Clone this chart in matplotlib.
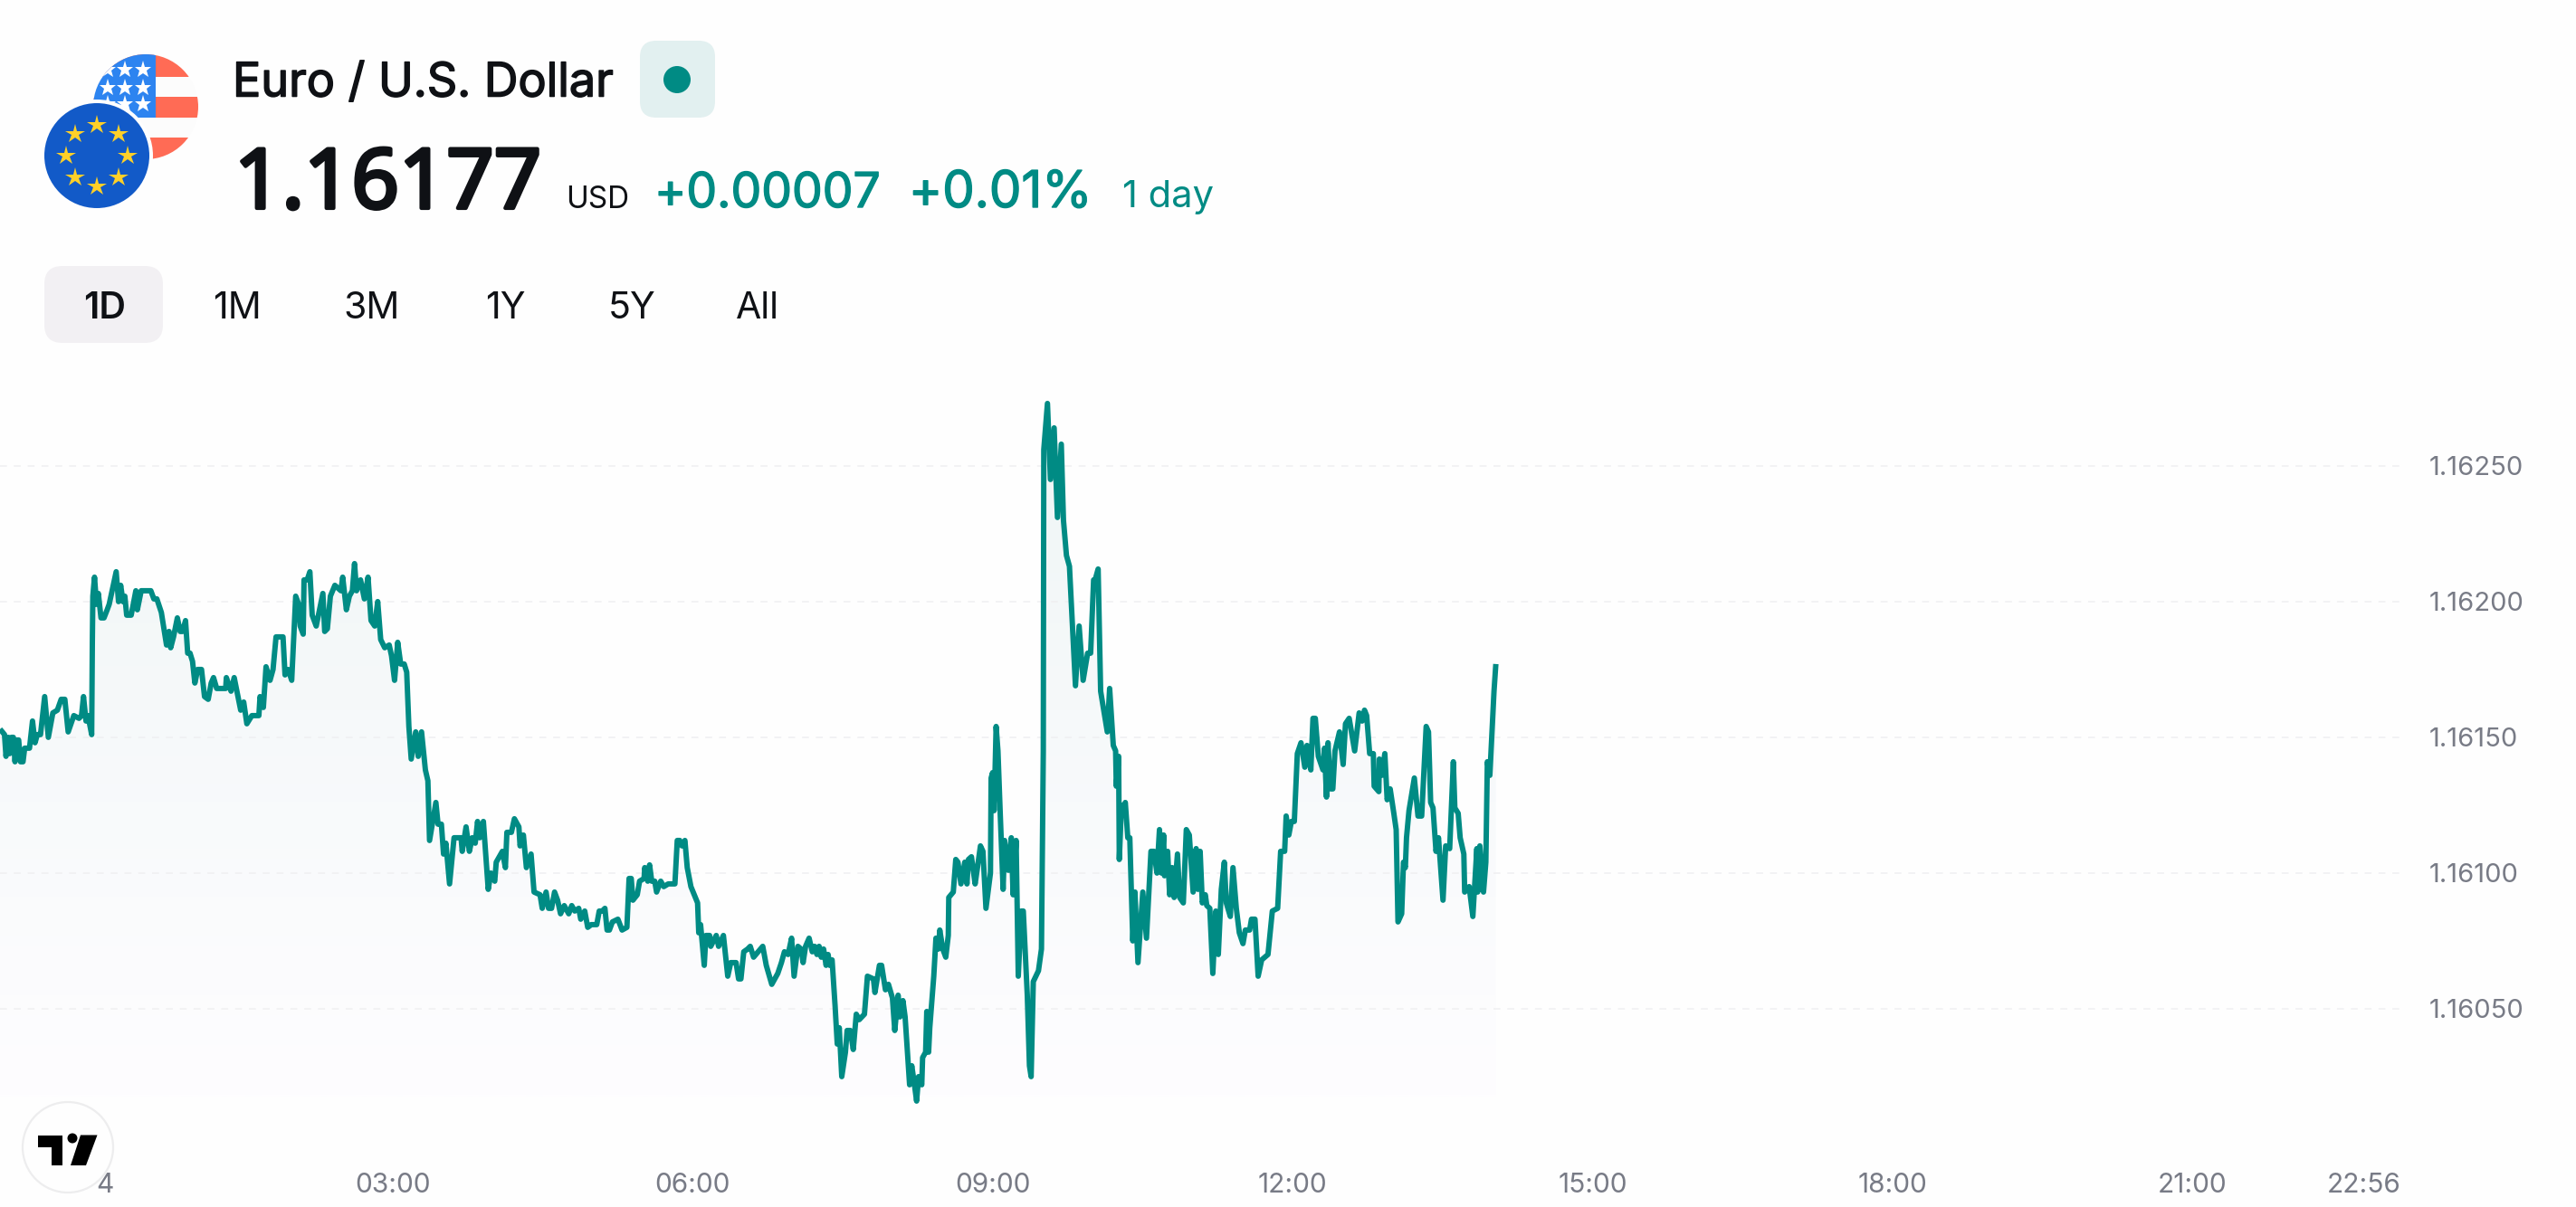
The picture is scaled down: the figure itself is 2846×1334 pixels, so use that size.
import numpy as np
import matplotlib
matplotlib.use("Agg")
import matplotlib.pyplot as plt
import matplotlib.patheffects as pe
from matplotlib.patches import Circle, FancyBboxPatch, Polygon, Rectangle
from matplotlib.transforms import ScaledTranslation

plt.rcParams["font.family"] = ["Inter", "DejaVu Sans"]

# Minutes from midnight and EUR/USD quote at each sampled point
minutes = [
    -55.4, -54.0, -52.7, -51.8, -50.5, -49.6, -48.5, -47.4, -46.4, -45.3, -44.2, -43.1, -41.6, -40.6, -37.7, -35.9,
    -34.4, -33.0, -31.1, -28.6, -26.4, -23.7, -21.0, -18.7, -16.5, -14.5, -11.1, -8.0, -6.5, -5.3, -3.8, -2.6, -0.4,
    0.0, 0.3, 1.3, 2.5, 3.6, 5.2, 7.0, 8.9, 10.1, 14.3, 15.7, 17.0, 18.4, 19.5, 20.6, 23.3, 26.1, 27.0, 29.3, 35.1,
    36.9, 38.7, 41.4, 43.2, 44.5, 46.0, 47.0, 48.7, 51.0, 52.7, 54.1, 55.9, 57.2, 58.6, 60.1, 61.5, 63.2, 65.5, 67.3,
    69.5, 71.3, 72.7, 74.6, 80.0, 80.4, 83.2, 85.1, 89.0, 90.8, 92.7, 95.7, 99.9, 100.6, 102.6, 104.2, 106.6,
    108.4, 110.2, 114.4, 115.6, 117.5, 119.6, 122.0, 123.8, 124.7, 126.5, 127.0, 128.9, 130.5, 131.9, 134.3, 138.3,
    139.4, 141.0, 142.8, 145.5, 149.1, 150.2, 152.4, 154.2, 156.0, 157.3, 158.5, 160.9, 163.2, 165.4, 167.2, 169.4,
    171.2, 173.0, 175.4, 178.1, 179.5, 181.3, 183.2, 185.0, 187.1, 188.6, 189.9, 191.3, 194.0, 195.5, 197.5, 199.8,
    201.3, 202.3, 206.1, 207.4, 209.4, 210.7, 212.1, 214.3, 217.0, 221.2, 221.9, 224.2, 226.2, 227.9, 229.7, 231.1,
    232.4, 234.6, 237.5, 239.1, 241.4, 242.3, 246.0, 247.8, 248.7, 251.4, 253.2, 255.9, 256.6, 258.6, 260.4, 263.2,
    265.0, 268.6, 269.9, 272.2, 273.7, 275.5, 277.3, 279.1, 280.9, 283.1, 285.8, 287.6, 289.4, 291.8, 293.0, 295.4,
    297.2, 299.4, 302.6, 304.1, 305.9, 307.5, 308.8, 310.2, 312.0, 315.3, 317.8, 320.7, 322.0, 323.3, 324.3, 326.9,
    328.3, 331.0, 331.4, 333.2, 334.3, 335.6, 337.4, 338.5, 341.0, 342.8, 345.5, 349.5, 350.9, 352.4, 353.7, 355.5,
    356.9, 359.1, 361.8, 363.1, 363.8, 364.9, 367.1, 368.1, 370.3, 371.0, 374.3, 375.7, 378.6, 381.2, 383.0, 386.2,
    387.7, 389.1, 390.8, 393.1, 394.7, 396.7, 402.2, 404.3, 407.6, 411.2, 413.4, 415.2, 417.4, 419.5, 421.0, 423.3,
    425.2, 426.4, 427.9, 430.0, 431.9, 433.3, 434.7, 436.0, 437.3, 438.7, 440.2, 441.4, 442.4, 443.8, 445.6, 446.9,
    448.1, 449.6, 451.8, 452.8, 454.7, 456.5, 458.3, 460.1, 463.2, 465.0, 468.6, 469.5, 472.2, 473.5, 475.8, 477.6,
    480.0, 481.4, 483.4, 484.5, 486.3, 487.6, 490.3, 491.6, 493.0, 494.5, 495.7, 497.6, 498.1, 499.9, 500.6, 501.7,
    502.4, 504.8, 506.1, 507.5, 508.4, 510.2, 512.0, 513.5, 513.8, 516.5, 518.0, 519.3, 521.1, 523.4, 524.7, 525.6,
    527.4, 529.6, 531.0, 532.8, 534.3, 536.1, 538.8, 539.2, 540.1, 541.0, 542.2, 543.3, 544.6, 546.4, 547.3, 549.5,
    551.3, 552.4, 554.2, 555.5, 557.3, 558.5, 560.9, 562.2, 563.2, 564.5, 567.6, 569.4, 570.5, 570.8, 573.0, 574.8,
    577.0, 579.0, 581.3, 582.6, 584.4, 586.2, 589.8, 592.0, 594.4, 597.1, 598.9, 600.7, 601.6, 603.4, 604.9, 608.9,
    610.3, 612.5, 613.9, 614.3, 615.7, 616.1, 617.4, 619.3, 619.7, 621.2, 622.4, 624.2, 625.5, 627.3, 630.2, 632.4,
    635.1, 636.9, 638.7, 640.2, 641.4, 642.7, 643.2, 645.1, 646.3, 647.8, 649.0, 651.0, 652.3, 654.5, 656.3, 658.1,
    660.4, 662.2, 663.2, 664.6, 665.9, 667.7, 668.6, 670.4, 672.2, 674.0, 675.5, 677.3, 679.1, 680.3, 682.7, 684.3,
    686.3, 688.1, 690.3, 691.7, 694.3, 695.4, 697.5, 699.4, 701.5, 705.3, 707.9, 711.1, 712.9, 715.3, 716.2, 717.8,
    719.3, 721.1, 722.9, 725.1, 727.4, 728.7, 731.0, 732.3, 733.7, 735.5, 738.3, 739.2, 740.4, 741.3, 742.8, 744.2,
    745.5, 748.2, 750.4, 751.8, 754.0, 757.3, 760.0, 761.8, 763.2, 764.5, 766.3, 768.5, 769.0, 771.8, 772.1, 773.6,
    775.4, 776.8, 778.6, 780.8, 782.2, 783.3, 785.5, 786.6, 787.7, 788.4, 789.9, 793.1, 795.3, 797.5, 800.2, 801.6,
    802.9, 804.3, 806.1, 807.6, 810.3, 811.9, 814.3, 816.5, 817.4, 819.4, 820.6, 822.8, 823.3, 826.0, 828.2, 830.6,
    831.1, 832.4, 834.6, 836.0, 836.9, 838.4, 840.9, 842.0,
]
quotes = [
    153, 152, 151, 143, 150, 144, 150, 150, 141, 149, 149, 141, 141, 146, 146, 156,
    148, 151, 151, 165, 150, 159, 160, 164, 164, 152, 158, 157, 158, 165, 156, 158, 151,
    185, 202, 209, 199, 203, 194, 194, 197, 199, 211, 200, 206, 200, 202, 195, 195, 204, 197, 204, 204,
    201, 201, 196, 189, 184, 189, 183, 187, 194, 189, 189, 193, 181, 181, 178, 170, 175, 175, 165,
    164, 170, 172, 168, 168, 172, 167, 172, 160, 163, 155, 158, 158, 165, 161, 176, 171,
    175, 187, 187, 173, 175, 171, 202, 199, 191, 188, 208, 208, 211, 195, 191, 203,
    189, 190, 202, 206, 204, 209, 197, 202, 204, 214, 204, 208, 201, 209, 193, 191,
    200, 186, 183, 184, 180, 171, 185, 177, 177, 174, 154, 142, 152, 143, 152, 138,
    134, 112, 126, 118, 118, 107, 111, 96, 113, 113, 108, 117, 108, 113, 111, 119,
    113, 119, 94, 100, 97, 104, 108, 102, 115, 115, 120, 117, 110, 114, 102, 107,
    93, 92, 87, 93, 87, 87, 93, 90, 85, 88, 85, 88, 86, 87, 83, 86,
    80, 81, 81, 86, 86, 87, 79, 79, 82, 83, 79, 80, 98, 98, 90, 92,
    97, 98, 102, 97, 103, 97, 97, 93, 97, 95, 96, 96, 112, 112, 110, 112,
    102, 95, 91, 89, 78, 81, 66, 77, 77, 73, 77, 73, 77, 62, 67, 67,
    61, 61, 71, 72, 73, 69, 73, 66, 59, 63, 67, 71, 70, 76, 62, 73,
    72, 67, 73, 76, 71, 73, 70, 73, 69, 72, 66, 70, 66, 68, 51, 37,
    43, 25, 34, 42, 42, 35, 48, 46, 48, 62, 61, 56, 66, 66, 57, 59,
    54, 42, 55, 47, 53, 47, 22, 29, 23, 16, 25, 22, 32, 34, 49, 34,
    43, 62, 76, 72, 79, 72, 69, 77, 91, 93, 105, 104, 96, 104, 96, 105,
    106, 96, 102, 110, 108, 87, 100, 135, 137, 123, 154, 145, 123, 94, 112, 101,
    113, 92, 112, 62, 86, 86, 55, 29, 25, 60, 64, 72, 145, 256, 273, 245,
    264, 231, 258, 230, 217, 213, 169, 191, 171, 181, 181, 208, 208, 212, 167, 152,
    168, 147, 145, 132, 143, 105, 125, 125, 126, 113, 113, 75, 93, 67, 93, 76,
    108, 108, 100, 116, 100, 114, 99, 108, 92, 102, 91, 107, 91, 89, 116, 114,
    93, 109, 94, 108, 89, 92, 88, 87, 63, 86, 70, 94, 104, 89, 84, 102,
    87, 78, 74, 79, 79, 83, 83, 62, 68, 70, 86, 87, 108, 108, 121, 114,
    119, 119, 144, 148, 139, 147, 138, 157, 157, 143, 138, 146, 128, 148, 131, 131,
    145, 152, 140, 155, 157, 145, 159, 156, 160, 158, 144, 144, 132, 130, 142, 136,
    144, 127, 131, 122, 116, 82, 85, 104, 102, 113, 123, 135, 121, 121, 154, 152,
    126, 124, 108, 113, 90, 110, 109, 141, 124, 122, 113, 107, 93, 95, 84, 109,
    93, 110, 93, 104, 141, 136, 167, 177,
]

time_ticks = [0, 180, 360, 540, 720, 900, 1080, 1260, 1376]
time_labels = ["4", "03:00", "06:00", "09:00", "12:00", "15:00", "18:00", "21:00", "22:56"]
price_ticks = [1.1605, 1.1610, 1.1615, 1.1620, 1.1625]

title = "Euro / U.S. Dollar"
last_price = "1.16177"
change = "+0.00007"
change_pct = "+0.01%"
ranges = ["1D", "1M", "3M", "1Y", "5Y", "All"]

TEAL = "#008B84"
INK = "#0F1115"
MUTED = "#787B86"
W, H = 2846, 1334

times = np.array(minutes)
prices = 1.16 + np.array(quotes) / 1e5
prices[-1] = float(last_price)

fig = plt.figure(figsize=(W / 100, H / 100), dpi=100, facecolor="#FEFEFE")

# Price panel: left edge to the end of the gridlines
ax = fig.add_axes([0, 1 - 1285 / H, 2655 / W, (1285 - 430) / H], facecolor="none")
x0, x1 = -55.4, 1386.3
y0, y1 = 1.159933, 1.162783
fill_floor = 1.160177

# Vertical gradient under the line, clipped to the area below the quote
v = np.linspace(0, 1, 256)[:, None]
top_rgb = np.array([238, 245, 245]) / 255
end_rgb = np.array([254, 253, 255]) / 255
grad = top_rgb[None, None, :] + (end_rgb - top_rgb)[None, None, :] * v[:, :, None] ** 0.85
img = ax.imshow(grad, extent=[x0, times[-1], fill_floor, prices.max()], origin="upper",
                aspect="auto", interpolation="bilinear", zorder=1)
area = Polygon(np.column_stack([np.r_[times[0], times, times[-1]],
                                np.r_[fill_floor, prices, fill_floor]]),
               closed=True, transform=ax.transData, facecolor="none", edgecolor="none")
ax.add_patch(area)
img.set_clip_path(area)

ax.plot(times, prices, color=TEAL, lw=4.3, solid_joinstyle="round", solid_capstyle="butt", zorder=3)

ax.set_xlim(x0, x1)
ax.set_ylim(y0, y1)
for s in ax.spines.values():
    s.set_visible(False)
ax.yaxis.tick_right()
ax.set_xticks(time_ticks, time_labels)
ax.set_yticks(price_ticks, [f"{p:.5f}" for p in price_ticks])
ax.tick_params(axis="both", length=0, labelsize=21, labelcolor=MUTED)
ax.tick_params(axis="x", labelsize=21.5, pad=8)
ax.tick_params(axis="y", pad=21)
ax.grid(axis="y", color="#EFEFF1", lw=1.1, dashes=(5, 5), zorder=2)
ax.set_axisbelow(False)
for ln in ax.get_ygridlines():
    ln.set_zorder(2)

# The edge time labels are nudged so they stay clear of the badge and inside the panel
labels = ax.get_xticklabels()
labels[-1].set_transform(labels[-1].get_transform() + ScaledTranslation(-24 / 100, 0, fig.dpi_scale_trans))
labels[0].set_transform(labels[0].get_transform() + ScaledTranslation(14 / 100, 0, fig.dpi_scale_trans))

# Header, flags and logo live on a pixel-addressed overlay
ov = fig.add_axes([0, 0, 1, 1], facecolor="none", zorder=5)
ov.set_xlim(0, W)
ov.set_ylim(H, 0)
ov.axis("off")

# US flag disc
us = Circle((161, 118), 58, transform=ov.transData)
stripes = [(60, 85, "#FF6B55"), (85, 107, "#FCFCFC"), (107, 130, "#FF6B55"),
           (130, 152, "#FCFCFC"), (152, 178, "#FF6B55")]
for top, bot, col in stripes:
    r = Rectangle((100, top), 125, bot - top, fc=col, ec="none", zorder=5)
    ov.add_patch(r)
    r.set_clip_path(us)
canton = Rectangle((100, 58), 72, 72, fc="#2D84F0", ec="none", zorder=6)
ov.add_patch(canton)
canton.set_clip_path(us)
for sy in (77, 97, 115):
    for sx in (119, 138, 158):
        ln = ov.plot([sx], [sy], marker="*", ms=14, mfc="white", mec="white", mew=0, ls="none", zorder=7)[0]
        ln.set_clip_path(us)

# Euro flag disc with a thin white ring and eight stars
ov.add_patch(Circle((107, 172), 62, fc="#FEFEFE", ec="none", zorder=8))
ov.add_patch(Circle((107, 172), 58, fc="#125AC8", ec="none", zorder=8))
for k in range(8):
    a = np.pi * k / 4
    ov.plot([107 + 34 * np.sin(a)], [172 - 34 * np.cos(a)], marker="*", ms=16, mfc="#FFD028", mec="#FFD028",
            mew=0, ls="none", zorder=9)

# Title row
t = ov.text(257, 93, title, fontsize=37.5, color=INK, va="center", ha="left")
t.set_path_effects([pe.Stroke(linewidth=1.1, foreground=INK), pe.Normal()])
ov.add_patch(FancyBboxPatch((707 + 18, 45 + 18), 83 - 36, 85 - 36, boxstyle="round,pad=18,rounding_size=18",
                            fc="#E2F0F0", ec="none", zorder=1))
ov.add_patch(Circle((748, 88), 15, fc=TEAL, ec="none", zorder=2))

# Quote row; the large price gets an outline so the wide regular digits read as bold
t = ov.text(259, 230, last_price, fontsize=66, family=["Noto Sans", "DejaVu Sans"], color=INK,
            va="baseline", ha="left")
t.set_path_effects([pe.Stroke(linewidth=3.0, foreground=INK), pe.Normal()])
ov.text(625, 230, "USD", fontsize=24, color=INK, va="baseline", ha="left")
for x, s, size in ((723, change, 38.5), (1004, change_pct, 40.5)):
    t = ov.text(x, 229, s, fontsize=size, color=TEAL, va="baseline", ha="left")
    t.set_path_effects([pe.Stroke(linewidth=1.0, foreground=TEAL), pe.Normal()])
ov.text(1240, 229, "1 day", fontsize=30, color=TEAL, va="baseline", ha="left")

# Range selector
ov.add_patch(FancyBboxPatch((49 + 20, 294 + 20), 131 - 40, 85 - 40, boxstyle="round,pad=20,rounding_size=20",
                            fc="#F2F0F3", ec="none", zorder=1))
for name, cx in zip(ranges, (116, 262, 411, 558, 698, 837)):
    ov.text(cx, 341, name, fontsize=29.5, weight="semibold" if name == "1D" else "normal",
            color=INK, va="center", ha="center", zorder=2)

# Logo badge
ov.add_patch(Circle((75, 1268), 50, fc="#FEFEFE", ec="#EDEDEE", lw=1.6, zorder=5))
ov.add_patch(Polygon([(42, 1254.5), (69, 1254.5), (69, 1288), (57, 1288), (57, 1267.5), (42, 1267.5)],
                     fc="black", ec="none", zorder=6))
ov.add_patch(Circle((80, 1258), 5.5, fc="black", ec="none", zorder=6))
ov.add_patch(Polygon([(89, 1254.5), (107.5, 1254.5), (95, 1288), (78, 1288)], fc="black", ec="none", zorder=6))

fig.savefig("out.png", dpi=100, facecolor=fig.get_facecolor())
